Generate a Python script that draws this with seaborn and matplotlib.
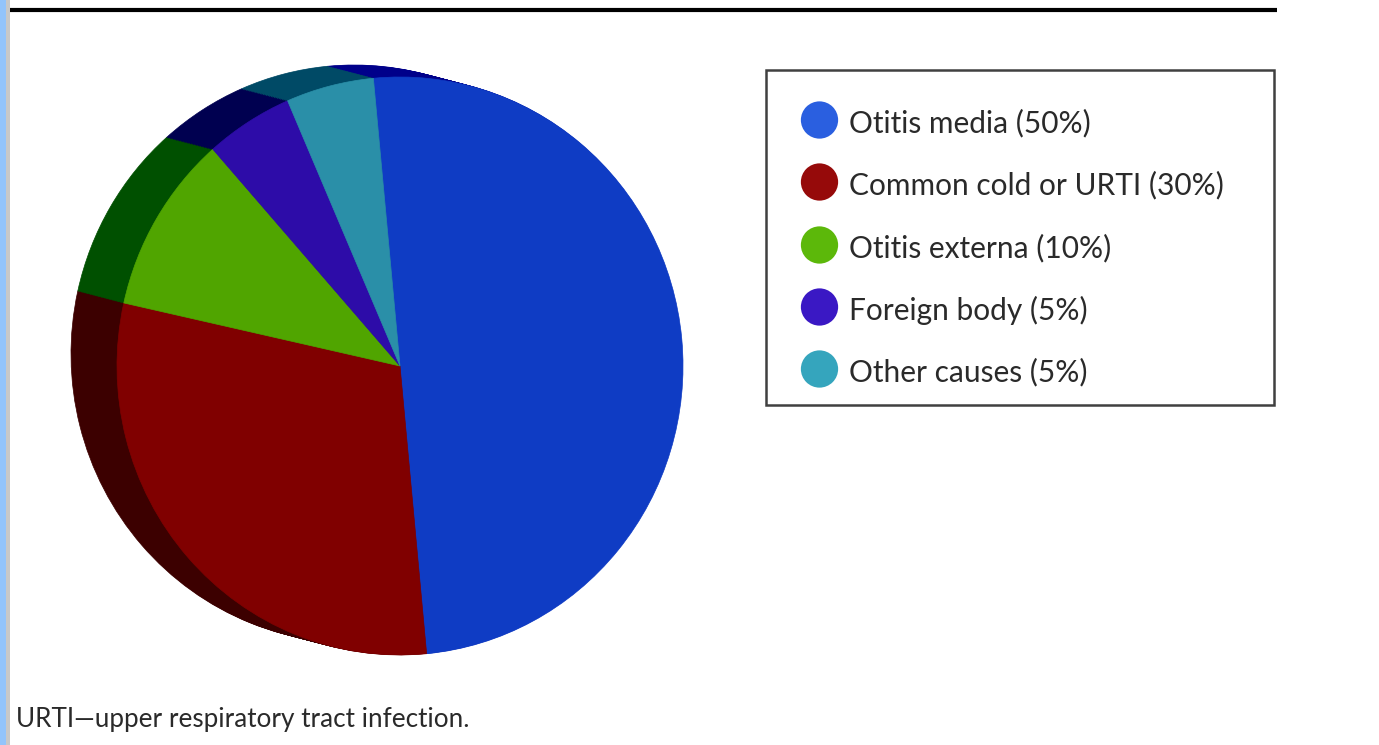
import numpy as np
import pandas as pd
import matplotlib
matplotlib.use("Agg")
import matplotlib.pyplot as plt
from matplotlib.patches import Rectangle
import seaborn as sns

# Causes of earache and their share of cases
causes = ["Otitis media", "Common cold or URTI", "Otitis externa", "Foreign body", "Other causes"]
shares = [50, 30, 10, 5, 5]
footnote = "URTI\u2014upper respiratory tract infection."

face_colors = ["#0f3cc4", "#800000", "#50a500", "#2d0ca8", "#2a8fa8"]
side_colors = ["#00008a", "#3c0000", "#005000", "#000050", "#004a66"]
key_colors = ["#2a5fe0", "#960a0a", "#5cb80a", "#3a18c4", "#35a5bd"]

sns.set_theme(style="white")
plt.rcParams["font.family"] = ["Lato", "DejaVu Sans"]

W, H = 1379, 745
fig = plt.figure(figsize=(W / 100, H / 100), dpi=100, facecolor="white")

# Page furniture and legend live on a pixel-scaled layer
page = fig.add_axes([0, 0, 1, 1])
page.set_xlim(0, W)
page.set_ylim(H, 0)
page.axis("off")
page.add_patch(Rectangle((0, 0), 6, H, fc="#93c4fb", ec="none"))
page.add_patch(Rectangle((6, 0), 4, H, fc="#c8c8c8", ec="none"))
page.plot([10, 1277], [10, 10], color="black", lw=3, solid_capstyle="butt")
page.add_patch(Rectangle((766, 70), 508, 335, fc="white", ec="#404040", lw=1.8))


def draw_pie(ax, colors, center):
    wedges, _ = ax.pie(shares, colors=colors, startangle=95.4, counterclock=False,
                       center=center, frame=False, wedgeprops=dict(linewidth=0.5))
    for wedge, color in zip(wedges, colors):
        wedge.set_edgecolor(color)


# The pie: a swept dark side behind the coloured top face
cx, cy, rx, ry = 400, 366, 283, 289
pie_ax = fig.add_axes([0, 0, 1, 1])
pie_ax.patch.set_alpha(0)
for t in np.linspace(1, 0.02, 30):
    draw_pie(pie_ax, side_colors, (-t * 46 / rx, t * 12 / ry))
draw_pie(pie_ax, face_colors, (0, 0))
pie_ax.set_aspect("auto")
pie_ax.set_xlim(-cx / rx, (W - cx) / rx)
pie_ax.set_ylim((cy - H) / ry, cy / ry)
pie_ax.axis("off")

# Legend rows
key_ax = fig.add_axes([0, 0, 1, 1])
key_ax.patch.set_alpha(0)
rows = pd.DataFrame({"cause": causes, "x": [819.5] * 5, "y": [120, 182, 245, 307, 369]})
sns.scatterplot(data=rows, x="x", y="y", hue="cause", palette=key_colors, s=720,
                linewidth=0, legend=False, ax=key_ax)
key_ax.set_xlim(0, W)
key_ax.set_ylim(H, 0)
key_ax.axis("off")
for cause, share, y in zip(causes, shares, rows["y"]):
    key_ax.text(849, y + 3, f"{cause} ({share}%)", fontsize=21.5, color="#2a2a2a", va="center", ha="left")

key_ax.text(16, 719, footnote, fontsize=18.8, color="#2a2a2a", va="center", ha="left")

fig.savefig("out.png", dpi=100, facecolor="white")
